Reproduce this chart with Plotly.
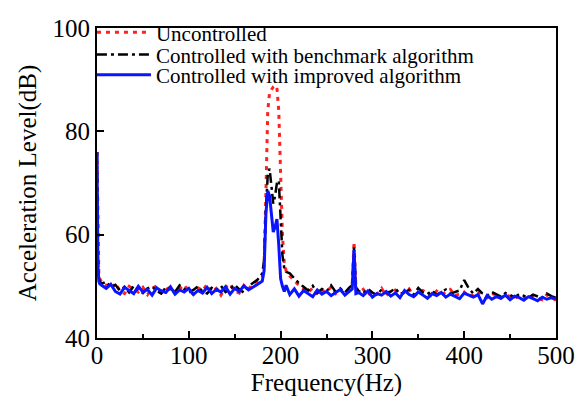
import plotly.graph_objects as go

# frequency grid (Hz), denser around the peaks
freq = ([0, 1, 2, 3] + list(range(5, 181, 5))
        + list(range(182, 207, 2)) + list(range(210, 276, 5))
        + [278, 280, 282] + list(range(285, 501, 5)))

uncontrolled = ([76, 56, 52, 51.5]
                + [50.8, 50.2, 49.5, 50.6, 49.1, 48.6, 50.0, 49.4, 48.9, 49.8,
                   48.4, 49.6, 50.1, 48.8, 49.3, 49.9, 48.7, 49.5, 50.3, 49.0,
                   48.5, 49.7, 49.2, 50.4, 48.9, 49.6, 48.3, 49.8, 50.5, 49.1,
                   48.7, 50.2, 49.4, 50.6, 51.0, 51.8]
                + [54, 68, 84, 87.5, 88.2, 88.6, 88.9, 88.4, 84, 72, 60, 54.5, 53.0]
                + [52.0, 51.0, 50.2, 49.5, 48.8, 49.7, 48.4, 49.2, 48.9, 49.9,
                   48.6, 49.3, 48.5, 49.6]
                + [50.5, 58.6, 50.0]
                + [48.7, 49.4, 48.3, 49.0, 48.5, 49.6, 48.2, 48.9, 49.3, 48.4,
                   48.8, 49.5, 48.1, 48.7, 49.2, 48.6, 48.0, 49.1, 48.4, 48.8,
                   49.4, 48.2, 48.6, 48.9, 47.9, 48.5, 49.0, 48.2, 47.8, 48.6,
                   48.3, 47.7, 48.4, 48.0, 47.6, 48.3, 47.9, 47.5, 48.2, 47.7,
                   47.4, 48.4, 47.8, 47.3])

benchmark = ([76, 55, 51.5, 51.0]
             + [50.5, 50.9, 49.8, 50.3, 49.2, 49.9, 48.8, 50.1, 49.3, 48.7,
                49.6, 50.0, 49.1, 48.6, 49.8, 49.4, 48.9, 50.2, 49.5, 48.8,
                49.3, 50.0, 49.0, 48.6, 49.7, 49.2, 50.1, 48.9, 49.5, 50.3,
                49.4, 48.8, 50.0, 50.7, 51.3, 52.5]
             + [55, 65, 71.5, 72.8, 69.5, 66.0, 67.5, 70.0, 70.5, 62, 56, 53.5, 52.8]
             + [52.5, 51.5, 50.6, 49.9, 49.2, 50.1, 48.7, 49.5, 49.0, 50.2,
                48.9, 49.6, 48.8, 49.8]
             + [50.2, 57.5, 49.8]
             + [49.1, 48.6, 49.5, 48.8, 48.3, 49.4, 48.7, 49.0, 49.6, 48.5,
                48.9, 49.3, 48.4, 49.7, 48.8, 48.5, 49.2, 48.3, 48.9, 49.4,
                48.6, 48.9, 49.2, 51.2, 49.6, 48.6, 49.5, 48.6, 48.2, 48.9,
                48.4, 48.0, 48.7, 48.3, 47.9, 48.5, 48.1, 47.8, 48.4, 48.0,
                47.7, 48.6, 48.1, 47.8])

improved = ([76, 54, 51, 50.5]
            + [50.2, 49.6, 50.4, 49.0, 48.5, 49.8, 49.2, 48.6, 50.0, 48.9,
               49.4, 48.3, 49.7, 49.1, 48.8, 49.9, 48.5, 49.3, 48.9, 49.6,
               48.4, 49.2, 48.7, 49.8, 48.6, 49.4, 48.9, 49.9, 48.5, 49.6,
               49.0, 50.1, 49.3, 49.8, 50.4, 51.0]
            + [53, 64, 68.5, 67.5, 63.5, 60.5, 61.5, 63.0, 58, 51.5, 50.0, 49.0, 50.2]
            + [48.4, 49.5, 48.1, 49.2, 48.6, 48.0, 49.3, 48.5, 49.0, 48.2,
               48.8, 49.4, 48.3, 49.0]
            + [49.5, 57.0, 48.6]
            + [48.8, 48.2, 49.1, 47.9, 48.6, 48.3, 49.0, 48.1, 48.7, 47.8,
               49.2, 48.4, 48.0, 48.9, 48.3, 47.7, 48.6, 48.2, 48.8, 47.9,
               48.5, 48.1, 47.6, 48.7, 48.3, 47.9, 48.4, 46.6, 48.2, 47.5,
               48.0, 47.7, 48.3, 47.4, 48.1, 47.8, 47.3, 48.0, 47.6, 47.2,
               47.9, 47.5, 47.8, 47.6])

fig = go.Figure()
fig.add_trace(go.Scatter(x=freq, y=uncontrolled, mode="lines", name="Uncontrolled",
                         legend="legend",
                         line=dict(color="#ff2020", width=3, dash="4px,5px")))
fig.add_trace(go.Scatter(x=freq, y=benchmark, mode="lines",
                         name="Controlled with benchmark algorithm", legend="legend2",
                         line=dict(color="black", width=2.5, dash="10px,4px,3px,4px")))
fig.add_trace(go.Scatter(x=freq, y=improved, mode="lines",
                         name="Controlled with improved algorithm", legend="legend3",
                         line=dict(color="#0a14ff", width=3)))

axis_style = dict(
    showgrid=False, zeroline=False, automargin=False,
    showline=True, linecolor="black", linewidth=2, mirror=True,
    ticks="inside", ticklen=7, tickwidth=2, tickcolor="black",
    tickfont=dict(size=25, color="black"),
)

fig.update_xaxes(range=[0, 500], dtick=100, ticklabelstandoff=-6,
                 minor=dict(ticks="inside", dtick=50, ticklen=4, tickwidth=2, tickcolor="black"),
                 title=dict(text="Frequency(Hz)", font=dict(size=25), standoff=0),
                 **axis_style)
fig.update_yaxes(range=[40, 100], dtick=20,
                 title=dict(text="Acceleration Level(dB)", font=dict(size=25), standoff=9),
                 **axis_style)

leg = dict(x=-0.011, xanchor="left", yanchor="middle", bgcolor="rgba(0,0,0,0)",
           font=dict(size=21), itemwidth=54)

fig.update_layout(
    width=576, height=401,
    margin=dict(l=97, r=20, t=18, b=63),
    plot_bgcolor="white", paper_bgcolor="white",
    font=dict(family="Liberation Serif", color="black", size=21),
    legend=dict(leg, y=0.985),
    legend2=dict(leg, y=0.913),
    legend3=dict(leg, y=0.848),
    showlegend=True,
)

fig.write_html("out.html", config={"displayModeBar": False},
               post_script="document.body.style.margin='0';")
